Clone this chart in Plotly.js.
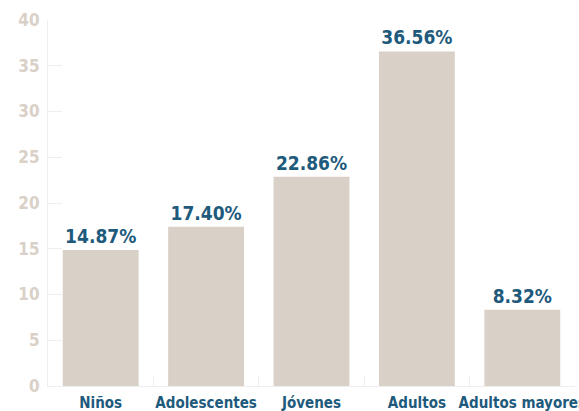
<!DOCTYPE html>
<html>
<head>
<meta charset="utf-8">
<script src="https://cdn.plot.ly/plotly-3.0.1.min.js"></script>
<style>html,body{margin:0;padding:0;background:#fff;}#chart{width:579px;height:411px;}</style>
</head>
<body>
<div id="chart"></div>
<script>
const categories = ["Niños", "Adolescentes", "Jóvenes", "Adultos", "Adultos mayores"];
const values = [14.87, 17.40, 22.86, 36.56, 8.32];
const yTicks = [0, 5, 10, 15, 20, 25, 30, 35, 40];

const FONT = '"DejaVu Sans Condensed", "DejaVu Sans", sans-serif';

Plotly.newPlot('chart', [{
  type: 'bar',
  x: categories,
  y: values,
  marker: {color: '#d9d0c7'},
  text: values.map(v => v.toFixed(2) + '%'),
  textposition: 'outside',
  constraintext: 'none',
  textfont: {family: FONT, size: 19, color: '#1e5a7c', weight: 'bold'},
  cliponaxis: false,
  hoverinfo: 'none'
}], {
  width: 579, height: 411,
  margin: {l: 48, r: 4, t: 20, b: 25},
  paper_bgcolor: '#fff', plot_bgcolor: '#fff',
  bargap: 0.28,
  showlegend: false,
  font: {family: FONT},
  xaxis: {
    type: 'category',
    showline: true, linecolor: '#eeeeee', linewidth: 1,
    ticks: 'inside', ticklen: 10, tickcolor: '#eeeeee', tickson: 'boundaries',
    showgrid: false,
    tickangle: 0,
    tickfont: {family: FONT, size: 15, color: '#1e5a7c', weight: 'bold'},
    ticklabelstandoff: 3,
    fixedrange: true
  },
  yaxis: {
    range: [0, 40],
    tickvals: yTicks,
    ticktext: yTicks.map(String),
    showline: true, linecolor: '#eeeeee', linewidth: 1,
    ticks: 'inside', ticklen: 14, tickcolor: '#eeeeee',
    showgrid: false, zeroline: false,
    tickfont: {family: FONT, size: 17, color: '#d9d0c7', weight: 'bold'},
    ticklabelstandoff: 4,
    fixedrange: true
  }
}, {displayModeBar: false, staticPlot: true});
</script>
</body>
</html>
